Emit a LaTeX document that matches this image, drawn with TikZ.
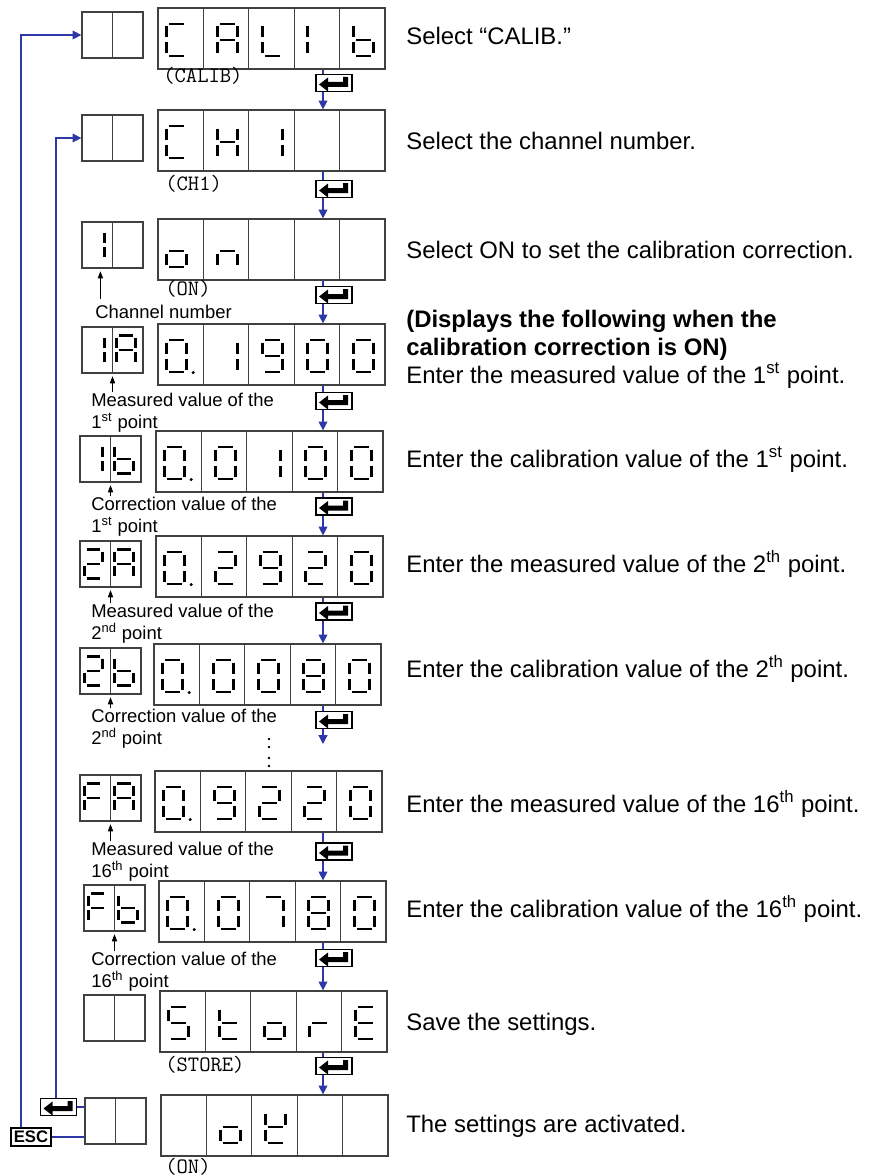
\documentclass[tikz,border=0pt]{standalone}
\usepackage{fontspec}
\setmainfont{Liberation Sans}
\usetikzlibrary{arrows.meta}

\definecolor{flowblue}{RGB}{45,55,165}

% seven segment glyphs (segment letters a..g, p = decimal point)
\newcommand\ssC{a,d,e,f}
\newcommand\ssA{a,b,c,e,f,g}
\newcommand\ssL{d,e,f}
\newcommand\ssI{e,f}
\newcommand\ssb{c,d,e,f,g}
\newcommand\ssH{b,c,e,f,g}
\newcommand\ssone{b,c}
\newcommand\sso{c,d,e,g}
\newcommand\ssn{c,e,g}
\newcommand\sszero{a,b,c,d,e,f}
\newcommand\sszerop{a,b,c,d,e,f,p}
\newcommand\sstwo{a,b,d,e,g}
\newcommand\ssseven{a,b,c}
\newcommand\sseight{a,b,c,d,e,f,g}
\newcommand\ssnine{a,b,c,d,f,g}
\newcommand\ssF{a,e,f,g}
\newcommand\ssS{a,c,d,f,g}
\newcommand\sst{d,e,f,g}
\newcommand\ssr{e,g}
\newcommand\ssE{a,d,e,f,g}
\newcommand\ssK{b,d,e,f,g}
\newcommand\ssX{z}

\newcommand\dga{\draw[segline] (-7.5,-16) -- (7.5,-16);}
\newcommand\dgb{\draw[segline] (10,-13.5) -- (10,-2.5);}
\newcommand\dgc{\draw[segline] (10,2.5) -- (10,13.5);}
\newcommand\dgd{\draw[segline] (-7.5,16) -- (7.5,16);}
\newcommand\dge{\draw[segline] (-10,2.5) -- (-10,13.5);}
\newcommand\dgf{\draw[segline] (-10,-13.5) -- (-10,-2.5);}
\newcommand\dgg{\draw[segline] (-7.5,0) -- (7.5,0);}
\newcommand\dgp{\fill (16.5,16.5) circle (1.7);}
\newcommand\dgz{}

\tikzset{
  seg/.pic={\edef\seglist{#1}\foreach \sgm in \seglist {\csname dg\sgm\endcsname}},
  retglyph/.pic={\fill (-15,1.5) -- (-6,-5.5) -- (-6,-1) -- (9,-1) -- (9,-6) -- (14,-6)
    -- (14,4) -- (-6,4) -- (-6,8.5) -- cycle;}
}

% five digit display: name, left, top, glyphs
\newcommand\bigdisp[4]{%
  \node[bigbox] (#1) at ({#2+113.5},{#3+30.5}) {};
  \foreach \n in {1,...,4} \draw[cellline] ({#2+45.4*\n},{#3}) -- ++(0,61);
  \foreach \gl [count=\ci] in {#4} \pic at ({#2+45.4*\ci-21.7-5*(\ci==1)},{#3+32}) {seg=\gl};
}
% two digit display
\newcommand\smalldisp[4]{%
  \node[smallbox] (#1) at ({#2+30.5},{#3+23}) {};
  \draw[cellline] (#1.north) -- (#1.south);
  \foreach \gl [count=\ci] in {#4} \pic[scale=.92] at ({#2+30.5*\ci-17},{#3+23}) {seg=\gl};
}

\begin{document}
\begin{tikzpicture}[x=.02cm,y=-.02cm,
  bigbox/.style={draw=black!75,line width=.7pt,minimum width=4.54cm,minimum height=1.22cm,inner sep=0},
  smallbox/.style={draw=black!75,line width=.7pt,minimum width=1.22cm,minimum height=.92cm,inner sep=0},
  cellline/.style={black!75,line width=.7pt},
  segline/.style={line width=1.6pt},
  retkey/.style={draw,line width=.8pt,fill=white,minimum width=.72cm,minimum height=.34cm,inner sep=0},
  escbox/.style={draw,line width=.7pt,fill=white,minimum width=.8cm,minimum height=.36cm,inner sep=0,
    font=\bfseries\fontsize{9.5}{10}\selectfont},
  flow/.style={draw=flowblue,line width=.7pt},
  flowarr/.style={flow,-{Triangle[length=5pt,width=5pt]}},
  ptr/.style={-{Triangle[length=4pt,width=3pt]},line width=.4pt,shorten >=1.5pt},
  said/.style={anchor=base west,inner sep=0,align=left,font=\fontsize{13.6}{15.8}\selectfont},
  note/.style={anchor=base west,inner sep=0,align=left,font=\fontsize{10.5}{12.5}\selectfont},
  mono/.style={anchor=base west,inner sep=0,font=\ttfamily\fontsize{12.5}{13}\selectfont}]
\useasboundingbox (0,0) rectangle (875,1176);

% displays
\bigdisp{d1}{158}{8}{\ssC,\ssA,\ssL,\ssI,\ssb}
\bigdisp{d2}{158}{110}{\ssC,\ssH,\ssone,\ssX,\ssX}
\bigdisp{d3}{158}{219}{\sso,\ssn,\ssX,\ssX,\ssX}
\bigdisp{d4}{158}{324}{\sszerop,\ssone,\ssnine,\sszero,\sszero}
\bigdisp{d5}{156}{431}{\sszerop,\sszero,\ssone,\sszero,\sszero}
\bigdisp{d6}{156}{536}{\sszerop,\sstwo,\ssnine,\sstwo,\sszero}
\bigdisp{d7}{154}{644}{\sszerop,\sszero,\sszero,\sseight,\sszero}
\bigdisp{d8}{155}{771}{\sszerop,\ssnine,\sstwo,\sstwo,\sszero}
\bigdisp{d9}{159}{881}{\sszerop,\sszero,\ssseven,\sseight,\sszero}
\bigdisp{d10}{160}{991}{\ssS,\sst,\sso,\ssr,\ssE}
\bigdisp{d11}{161}{1095}{\ssX,\sso,\ssK,\ssX,\ssX}

\smalldisp{s1}{82}{12}{\ssX,\ssX}
\smalldisp{s2}{82}{115}{\ssX,\ssX}
\smalldisp{s3}{82}{222}{\ssone,\ssX}
\smalldisp{s4}{82}{327}{\ssone,\ssA}
\smalldisp{s5}{80}{436}{\ssone,\ssb}
\smalldisp{s6}{80}{541}{\sstwo,\ssA}
\smalldisp{s7}{80}{648}{\sstwo,\ssb}
\smalldisp{s8}{80}{775}{\ssF,\ssA}
\smalldisp{s9}{84}{885}{\ssF,\ssb}
\smalldisp{s10}{84}{995}{\ssX,\ssX}
\smalldisp{s11}{85}{1098}{\ssX,\ssX}

% enter keys and the flow down
\foreach \i/\y in {1/83,2/189,3/295,4/401,5/506.5,6/611.5,7/720,8/851.5,9/958,10/1066} {
  \node[retkey] (k\i) at (334,\y) {};
  \pic at (k\i) {retglyph};
}
\coordinate (ax) at (323,0);
\coordinate (gap) at (323,744);
\foreach \i [evaluate=\i as \j using int(\i+1)] in {1,2,3,4,5,6,8,9,10} {
  \draw[flow] (d\i.south -| ax) -- (k\i.north -| ax);
  \draw[flowarr] (k\i.south -| ax) -- (d\j.north -| ax);
}
\draw[flow] (d7.south -| ax) -- (k7.north -| ax);
\draw[flowarr] (k7.south -| ax) -- (gap);
\foreach \y in {739,747,758,766} \fill (269,\y) circle (1.3);

% way back
\node[retkey] (kl) at (58.5,1107) {};
\pic at (kl) {retglyph};
\node[escbox] (esc) at (31,1137) {ESC};
\draw[flowarr] ([xshift=-.2cm]esc.north) |- (s1.west);
\draw[flowarr] ([xshift=-.05cm]kl.north) |- (s2.west);
\draw[flow] (kl.east) -- (kl.east -| s11.west);
\draw[flow] (esc.east) -- (esc.east -| s11.west);

% texts
\node[mono] (m1) at (163,83) {(CALIB)};
\node[mono] (m2) at (165,190) {(CH1)};
\node[mono] (m3) at (165,295) {(ON)};
\node[mono] (m10) at (165,1071) {(STORE)};
\node[mono] (m11) at (165,1173) {(ON)};

\node[note] (lab3) at (95,318) {Channel number};
\node[note] (lab4) at (91,428) {Measured value of the\\1\textsuperscript{st} point};
\node[note] (lab5) at (91,532) {Correction value of the\\1\textsuperscript{st} point};
\node[note] (lab6) at (91,639) {Measured value of the\\2\textsuperscript{nd} point};
\node[note] (lab7) at (91,744) {Correction value of the\\2\textsuperscript{nd} point};
\node[note] (lab8) at (91,877) {Measured value of the\\16\textsuperscript{th} point};
\node[note] (lab9) at (91,987) {Correction value of the\\16\textsuperscript{th} point};
\draw[ptr] ([xshift=.38cm,yshift=-.6cm]s3.south west) -- ([xshift=.38cm]s3.south west);
\foreach \i in {4,...,9} \draw[ptr] (lab\i.north -| s\i.south) -- (s\i.south);

\node[said] (t1) at (406,45) {Select “CALIB.”};
\node[said] (t2) at (406,150) {Select the channel number.};
\node[said] (t3) at (406,258) {Select ON to set the calibration correction.};
\node[said] (t4) at (406,383) {\textbf{(Displays the following when the}\\\textbf{calibration correction is ON)}\\Enter the measured value of the 1\textsuperscript{st} point.};
\node[said] (t5) at (406,467) {Enter the calibration value of the 1\textsuperscript{st} point.};
\node[said] (t6) at (406,572) {Enter the measured value of the 2\textsuperscript{th} point.};
\node[said] (t7) at (406,677) {Enter the calibration value of the 2\textsuperscript{th} point.};
\node[said] (t8) at (406,812) {Enter the measured value of the 16\textsuperscript{th} point.};
\node[said] (t9) at (406,917) {Enter the calibration value of the 16\textsuperscript{th} point.};
\node[said] (t10) at (406,1030) {Save the settings.};
\node[said] (t11) at (406,1132) {The settings are activated.};
\end{tikzpicture}
\end{document}
